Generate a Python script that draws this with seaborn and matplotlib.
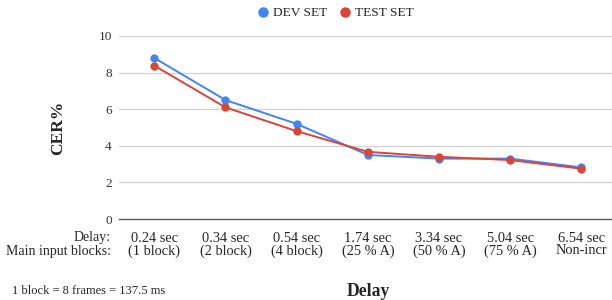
import pandas as pd
import numpy as np
import matplotlib
matplotlib.use('Agg')
import matplotlib.pyplot as plt
import seaborn as sns

# data
delays = ['0.24 sec', '0.34 sec', '0.54 sec', '1.74 sec', '3.34 sec', '5.04 sec', '6.54 sec']
blocks = ['(1 block)', '(2 block)', '(4 block)', '(25 % A)', '(50 % A)', '(75 % A)', 'Non-incr']
dev_cer = [8.8, 6.5, 5.2, 3.5, 3.3, 3.3, 2.82]
test_cer = [8.38, 6.1, 4.8, 3.67, 3.4, 3.22, 2.75]
series_names = ['DEV SET', 'TEST SET']
colors = ['#4285F4', '#DB4437']

sns.set_style('white')
plt.rcParams['font.family'] = ['Liberation Serif', 'DejaVu Serif']

pos = np.arange(len(delays))
df = pd.DataFrame({
    'pos': np.concatenate([pos, pos]),
    'CER': dev_cer + test_cer,
    'set': [series_names[0]] * len(pos) + [series_names[1]] * len(pos),
})

fig = plt.figure(figsize=(6.12, 3.0), dpi=100)
ax = fig.add_axes([0.194, 0.27, 0.806, 0.61])

sns.lineplot(data=df, x='pos', y='CER', hue='set', palette=colors, marker='o',
             markersize=6, markeredgewidth=0, linewidth=1.4, ax=ax, legend=False,
             clip_on=False)

ax.set_ylim(0, 10)
ax.set_xlim(-0.5, 6.43)
ax.set_yticks([0, 2, 4, 6, 8, 10])
ax.set_yticklabels(['0', '2', '4', '6', '8', '10'], fontsize=9.5, color='#333333')
ax.set_xticks(pos)
ax.set_xticklabels([d + '\n' + b for d, b in zip(delays, blocks)], fontsize=10.4,
                   linespacing=1.0)
ax.tick_params(axis='both', length=0)
ax.tick_params(axis='x', pad=9)
ax.tick_params(axis='y', pad=5)
for y in [2, 4, 6, 8, 10]:
    ax.axhline(y, color='#d0d0d0', linewidth=0.9, zorder=0)
for s in ['top', 'right', 'left']:
    ax.spines[s].set_visible(False)
ax.spines['bottom'].set_color('#555555')
ax.spines['bottom'].set_linewidth(1.0)

ax.set_xlabel('')
ax.set_ylabel('')
fig.text(58 / 612, 1 - 128 / 300, 'CER%', rotation=90, ha='center', va='center',
         fontsize=12.5, fontweight='bold')

# row labels on the left of the category ticks
fig.text(111 / 612, 1 - 238 / 300, 'Delay:', ha='right', va='center', fontsize=10)
fig.text(111 / 612, 1 - 252 / 300, 'Main input blocks:', ha='right', va='center', fontsize=10)

fig.text(368 / 612, 1 - 292 / 300, 'Delay', ha='center', va='center', fontsize=12.7,
         fontweight='bold')
fig.text(12 / 612, 1 - 291 / 300, '1 block = 8 frames = 137.5 ms', ha='left',
         va='center', fontsize=9)

handles = [plt.Line2D([], [], marker='o', linestyle='', color=c, markersize=6.5)
           for c in colors]
fig.legend(handles, series_names, loc='center', bbox_to_anchor=(335 / 612, 1 - 13 / 300),
           ncol=2, frameon=False, fontsize=9.6, handletextpad=0.3, columnspacing=0.8,
           handlelength=1.0)

fig.savefig('out.png', dpi=100)
